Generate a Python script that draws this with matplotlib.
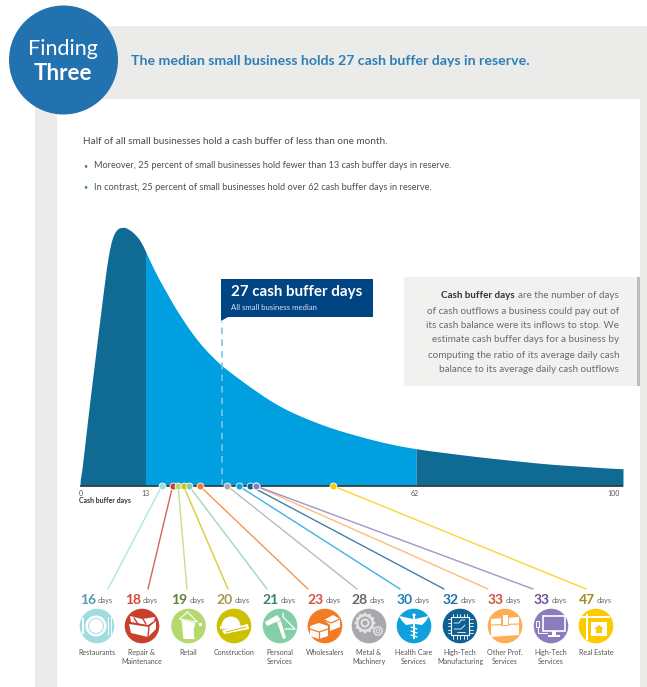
import numpy as np
import matplotlib
matplotlib.use("Agg")
import matplotlib.pyplot as plt
from matplotlib.patches import Circle, Rectangle, Polygon, Wedge
from matplotlib.patches import ConnectionPatch

plt.rcParams['font.family'] = ['Lato', 'DejaVu Sans']

# ---------- data ----------
curve_days = [0, 2.0, 4.1, 5.3, 6.0, 6.55, 7.5, 8.9, 10.5, 11.9, 13, 15.7, 18.1, 21.2, 24.3, 26.9, 30.2, 35, 37.4, 39.2, 46.4, 55.5, 62, 73.7, 86, 100]
curve_vals = [0, 87, 173, 221, 241, 251, 258, 259, 254, 246, 235, 203, 181, 154, 133, 121, 106, 87, 79, 74, 58, 44, 37, 29, 22, 17]
q1_day, median_day, q3_day = 13, 27, 62
axis_ticks = [0, 13, 62, 100]
industries = ["Restaurants", "Repair &\nMaintenance", "Retail", "Construction", "Personal\nServices", "Wholesalers",
              "Metal &\nMachinery", "Health Care\nServices", "High-Tech\nManufacturing", "Other Prof.\nServices",
              "High-Tech\nServices", "Real Estate"]
industry_days = [16, 18, 19, 20, 21, 23, 28, 30, 32, 33, 33, 47]
icon_colors = ["#9FDDE0", "#C8402B", "#B5D96F", "#CCC000", "#85CFA8", "#F37B24",
               "#A7A9AC", "#0FA0DF", "#0F5F92", "#FDAE55", "#8C7CBE", "#FBCB00"]
num_colors = ["#5B97AE", "#D04A32", "#5F7F3C", "#A39A4D", "#3C7F75", "#D2503F",
              "#666666", "#1F7FB8", "#1F6FA8", "#D24C3F", "#6A4C93", "#A58A1C"]
icon_x = [97, 142, 188.5, 234, 280, 325, 369, 414, 460, 505, 551, 596]
leader_end_x = [108, 148, 187, 228, 267, 308, 357, 400, 444, 488, 533, 586]

W, H = 647, 687
fig = plt.figure(figsize=(W / 100, H / 100), dpi=100, facecolor="white")

# page layer, in pixels
bg = fig.add_axes([0, 0, 1, 1], zorder=0)
bg.set_xlim(0, W); bg.set_ylim(H, 0); bg.axis("off")

GREY = "#EBECEA"
bg.add_patch(Rectangle((35, 26), W - 35, H - 26, fc=GREY, ec="none"))
bg.add_patch(Rectangle((57, 99), 583, H - 99, fc="white", ec="none"))
bg.add_patch(Circle((63.5, 60), 54.5, fc="#2272AF", ec="none", zorder=3))

def T(x, y, s, size=8, color="#555555", ha="left", va="center", weight="normal", z=6, **k):
    return bg.text(x, y, s, fontsize=size, color=color, ha=ha, va=va, fontweight=weight, zorder=z, **k)

T(63, 49, "Finding", 15.5, "white", ha="center")
T(63, 74, "Three", 16, "white", ha="center", weight="bold")
T(131, 61, "The median small business holds 27 cash buffer days in reserve.", 10.15, "#2E7DB5", weight="bold")
T(83, 142, "Half of all small businesses hold a cash buffer of less than one month.", 7.2, "#4A4A4A")
T(83, 166, "•", 5, "#2E7DB5")
T(94, 166, "Moreover, 25 percent of small businesses hold fewer than 13 cash buffer days in reserve.", 6.6, "#4F4F4F")
T(83, 187, "•", 5, "#2E7DB5")
T(94, 187, "In contrast, 25 percent of small businesses hold over 62 cash buffer days in reserve.", 6.65, "#4F4F4F")

# chart axes: day scale, piecewise as printed on the reference axis
knots_d = np.array([0, 13, 27, 33, 62, 100], float)
knots_p = np.array([80, 145.5, 221.5, 256, 416, 623], float)
def fwd(d):
    d = np.asarray(d, float)
    return np.interp(d, knots_d, knots_p)
def inv(p):
    p = np.asarray(p, float)
    return np.interp(p, knots_p, knots_d)

x0, x1, y0, y1 = 80, 623, 486, 220
ax = fig.add_axes([x0 / W, 1 - y0 / H, (x1 - x0) / W, (y0 - y1) / H], zorder=1)
ax.patch.set_alpha(0)
ax.set_xscale("function", functions=(fwd, inv))
ax.set_xlim(0, 100); ax.set_ylim(0, y0 - y1)
ax.axis("off")

xs = np.linspace(0, 100, 2001)
ys = np.interp(xs, curve_days, curve_vals)

def soften(a, n):
    return np.convolve(np.pad(a, n, mode="edge"), np.ones(2 * n + 1) / (2 * n + 1), mode="valid")

# soften the corners of the read-off outline: lightly near the peak, more along the tail
blend = np.clip((xs - 13) / 4, 0, 1)
ys_s = (1 - blend) * soften(ys, 10) + blend * soften(ys, 70)
ys_s[0] = 0
DARK, BRIGHT = "#0F6A94", "#009FDF"
ax.fill_between(xs, 0, ys_s, where=xs <= q1_day, color=DARK, lw=0)
ax.fill_between(xs, 0, ys_s, where=(xs >= q1_day) & (xs <= q3_day), color=BRIGHT, lw=0)
ax.fill_between(xs, 0, ys_s, where=xs >= q3_day, color=DARK, lw=0)
ax.plot([0, 100], [0, 0], color="#3A3A3A", lw=1.2, clip_on=False, zorder=3, solid_capstyle="butt")
ax.plot([median_day, median_day], [0, 164], color="#7FC4E4", lw=1.2, ls=(0, (4, 3)), zorder=2, clip_on=False)

# leaders and dots
for d, c, ex in zip(industry_days, icon_colors, leader_end_x):
    con = ConnectionPatch(xyA=(d, 0), coordsA=ax.transData, xyB=(ex, 589), coordsB=bg.transData,
                          color=c, lw=1.0, alpha=0.8, zorder=1)
    fig.add_artist(con)
for d, c in zip(industry_days, icon_colors):
    ax.plot([d], [0], "o", ms=5, mfc=c, mec="white", mew=0.6, zorder=5, clip_on=False)

# tick labels
for d in axis_ticks:
    T(fwd(d) + (1 if d == 0 else -9 if d == 100 else -1 if d == 62 else 0), 493, str(d), 5, "#555555", ha="center")
T(79, 501, "Cash buffer days", 5.0, "#333333", weight="bold")

T(139, 453, "25%", 8.2, "white", ha="right", weight="bold", z=7)
T(139, 467, "< 13 cash", 5.6, "#BFE3F2", ha="right", z=7)
T(139, 477.5, "buffer days", 5.6, "#BFE3F2", ha="right", z=7)
T(423, 463, "25%", 8.2, "white", weight="bold", z=7)
T(423, 476, "> 62 cash buffer days", 5.6, "#D5EEF8", z=7)

# callout
bg.add_patch(Polygon([(221, 279), (373, 279), (373, 317), (228, 317), (221, 321)], fc="#004483", ec="none", zorder=5))
T(231, 292, "27 cash buffer days", 10.9, "white", weight="bold")
T(231, 307, "All small business median", 5.6, "#D8E4F0")

# definition box
bg.add_patch(Rectangle((404, 277), 235, 109, fc="#F1F1F0", ec="none", zorder=2))
bg.add_patch(Rectangle((637, 277), 2.5, 109, fc="#BDBDBD", ec="none", zorder=2))
box_lines = ["are the number of days", "of cash outflows a business could pay out of",
             "its cash balance were its inflows to stop. We", "estimate cash buffer days for a business by",
             "computing the ratio of its average daily cash", "balance to its average daily cash outflows"]
box_y = [296, 311, 326, 340, 355, 370]
first = None
for s, y in zip(box_lines, box_y):
    t = T(619, y, s, 7.1, "#6B6B6B", ha="right")
    first = first or t
r = fig.canvas.get_renderer()
ext = first.get_window_extent(r)
T(ext.x0 - 3, 296, "Cash buffer days", 7.1, "#333333", ha="right", weight="bold")

# ---------- icons ----------
def R(x, y, w, h, c="white", z=5, **k):
    bg.add_patch(Rectangle((x, y), w, h, fc=c, ec="none", zorder=z, **k))
def C(x, y, r, c="white", z=5, **k):
    bg.add_patch(Circle((x, y), r, fc=c, ec="none", zorder=z, **k))
def P(pts, c="white", z=5):
    bg.add_patch(Polygon(pts, fc=c, ec="none", zorder=z))
def L(pts, c="white", lw=0.8, z=5):
    a = np.array(pts); bg.plot(a[:, 0], a[:, 1], color=c, lw=lw, zorder=z, solid_capstyle="round")

cy = 626
def ic_plate(x, col):
    C(x - 1, cy, 10.5); C(x - 1, cy, 8, col, z=6); C(x - 1, cy, 7, z=6)
    R(x - 15, cy - 8, 2.2, 16)
    for dx in (11, 13.5): R(x + dx, cy - 9, 1.4, 18)
def ic_tools(x, col):
    P([(x - 13, cy - 2), (x + 7, cy + 1), (x + 14, cy - 5), (x + 14, cy + 3), (x + 6, cy + 11), (x - 11, cy + 7)])
    P([(x - 12, cy - 10), (x + 0, cy - 7), (x + 13, cy - 9), (x + 12, cy - 5), (x + 6, cy - 1), (x - 11, cy - 4)])
    L([(x - 8, cy - 8), (x - 4, cy - 2)], col, 1); L([(x + 1, cy - 7), (x + 4, cy - 2)], col, 1)
    L([(x + 7, cy + 1), (x + 6, cy + 11)], col, 1)
def ic_shirt(x, col):
    L([(x - 1, cy - 14), (x - 9, cy - 7), (x + 9, cy - 4), (x - 1, cy - 14)], "white", 0.8)
    P([(x - 7, cy - 6), (x + 7, cy - 3), (x + 5, cy + 4), (x + 6, cy + 13), (x - 5, cy + 13), (x - 6, cy + 3)])
    R(x + 10, cy - 3, 3, 3)
def ic_hat(x, col):
    bg.add_patch(Wedge((x - 3, cy), 9.5, 180, 360, fc="white", ec="none", zorder=5))
    P([(x - 14, cy), (x + 7, cy), (x + 8, cy + 2), (x - 14, cy + 3)])
    P([(x - 12, cy + 4), (x + 14, cy - 2), (x + 15, cy + 3), (x - 10, cy + 8)])
    L([(x - 8, cy + 6), (x + 12, cy + 1)], col, 0.7)
def ic_dryer(x, col):
    P([(x - 15, cy - 4), (x - 3, cy - 11), (x + 1, cy - 6), (x - 13, cy + 0)])
    P([(x - 3, cy - 4), (x + 1, cy - 5), (x + 6, cy + 12), (x + 3, cy + 13)])
    L([(x + 3, cy - 13), (x + 3, cy - 9), (x + 15, cy + 3), (x + 5, cy + 3)], "white", 0.9)
def ic_boxes(x, col):
    P([(x - 15, cy + 0), (x - 6, cy - 3), (x + 3, cy + 0), (x + 3, cy + 10), (x - 6, cy + 13), (x - 15, cy + 10)])
    P([(x - 1, cy - 6), (x + 8, cy - 11), (x + 15, cy - 7), (x + 15, cy + 1), (x + 5, cy + 5), (x + 5, cy - 1)])
    L([(x - 15, cy + 3), (x - 6, cy + 6), (x + 3, cy + 3)], col, 0.9); L([(x - 6, cy + 6), (x - 6, cy + 13)], col, 0.9)
    L([(x - 1, cy - 6), (x + 6, cy - 3), (x + 15, cy - 7)], col, 0.9)
def gear(x, y, r, col):
    for a in np.arange(0, 360, 30):
        b = np.radians(a); C(x + r * np.cos(b), y + r * np.sin(b), r * 0.16, "#E4E4E4")
    C(x, y, r, "#E4E4E4"); C(x, y, r * .72, col, z=6); C(x, y, r * .5, "#E4E4E4", z=6); C(x, y, r * .28, col, z=6)
def ic_gears(x, col):
    gear(x - 4, cy - 3, 9, col); gear(x + 9, cy + 5, 4.5, col)
def ic_caduceus(x, col):
    R(x - .7, cy - 11, 1.4, 24); C(x, cy - 11, 1.6)
    P([(x - 1, cy - 7), (x - 15, cy - 10), (x - 12, cy - 5), (x - 8, cy - 1), (x - 1, cy - 2)])
    P([(x + 1, cy - 7), (x + 15, cy - 10), (x + 12, cy - 5), (x + 8, cy - 1), (x + 1, cy - 2)])
    for dy in (1, 5, 9):
        L([(x - 3, cy + dy), (x + 3, cy + dy + 2)], "white", 0.9)
def ic_chip(x, col):
    bg.add_patch(Rectangle((x - 9, cy - 9), 18, 18, fc="none", ec="white", lw=0.8, zorder=5))
    for k in np.linspace(-7, 7, 5):
        L([(x + k, cy - 9), (x + k, cy - 12.5)], "white", .6); L([(x + k, cy + 9), (x + k, cy + 12.5)], "white", .6)
        L([(x - 9, cy + k), (x - 12.5, cy + k)], "white", .6); L([(x + 9, cy + k), (x + 12.5, cy + k)], "white", .6)
    L([(x - 6, cy - 3), (x - 1, cy - 3), (x + 1, cy - 6), (x + 5, cy - 6)], "white", .6)
    L([(x - 6, cy + 3), (x + 1, cy + 3), (x + 5, cy - 1)], "white", .6)
    L([(x - 3, cy + 6), (x + 5, cy + 6)], "white", .6)
def ic_case(x, col):
    P([(x - 14, cy - 7), (x + 14, cy - 9), (x + 14, cy + 9), (x - 14, cy + 11)])
    L([(x - 14, cy - 1), (x + 14, cy - 2)], col, .8)
    R(x - 4, cy - 13, 8, 13, col, z=6); R(x - 2.5, cy - 11.5, 5, 10, "white", z=6)
def ic_monitor(x, col):
    bg.add_patch(Rectangle((x - 8, cy - 10), 22, 15, fc="none", ec="white", lw=1.2, zorder=5))
    R(x + 1, cy + 5, 4, 4); R(x - 3, cy + 9, 12, 1.5)
    bg.add_patch(Rectangle((x - 15, cy - 5), 3, 6, fc="none", ec="white", lw=.7, zorder=5))
    L([(x - 13.5, cy + 1), (x - 13.5, cy + 7), (x - 4, cy + 7)], "white", .7)
def ic_sign(x, col):
    R(x - 10, cy - 12, 2.2, 26); R(x - 15, cy - 10, 29, 2.2)
    R(x - 5, cy - 4, 16, 14)
    P([(x + 3, cy - 1), (x + 8, cy + 3), (x - 2, cy + 3)], col, z=6); R(x, cy + 3, 6, 4, col, z=6)

icons = [ic_plate, ic_tools, ic_shirt, ic_hat, ic_dryer, ic_boxes, ic_gears, ic_caduceus, ic_chip, ic_case, ic_monitor, ic_sign]
for x, c, nc, d, name, fn in zip(icon_x, icon_colors, num_colors, industry_days, industries, icons):
    C(x, cy, 17.3, c, z=4)
    fn(x, c)
    T(x - 1, 600, str(d), 10, nc, ha="right", weight="bold")
    T(x + 1, 601, "days", 5.4, "#666666")
    T(x, 657 if "\n" in name else 652.5, name, 5.1, "#555555", ha="center", linespacing=1.45)

fig.savefig("out.png", dpi=100, facecolor="white")
